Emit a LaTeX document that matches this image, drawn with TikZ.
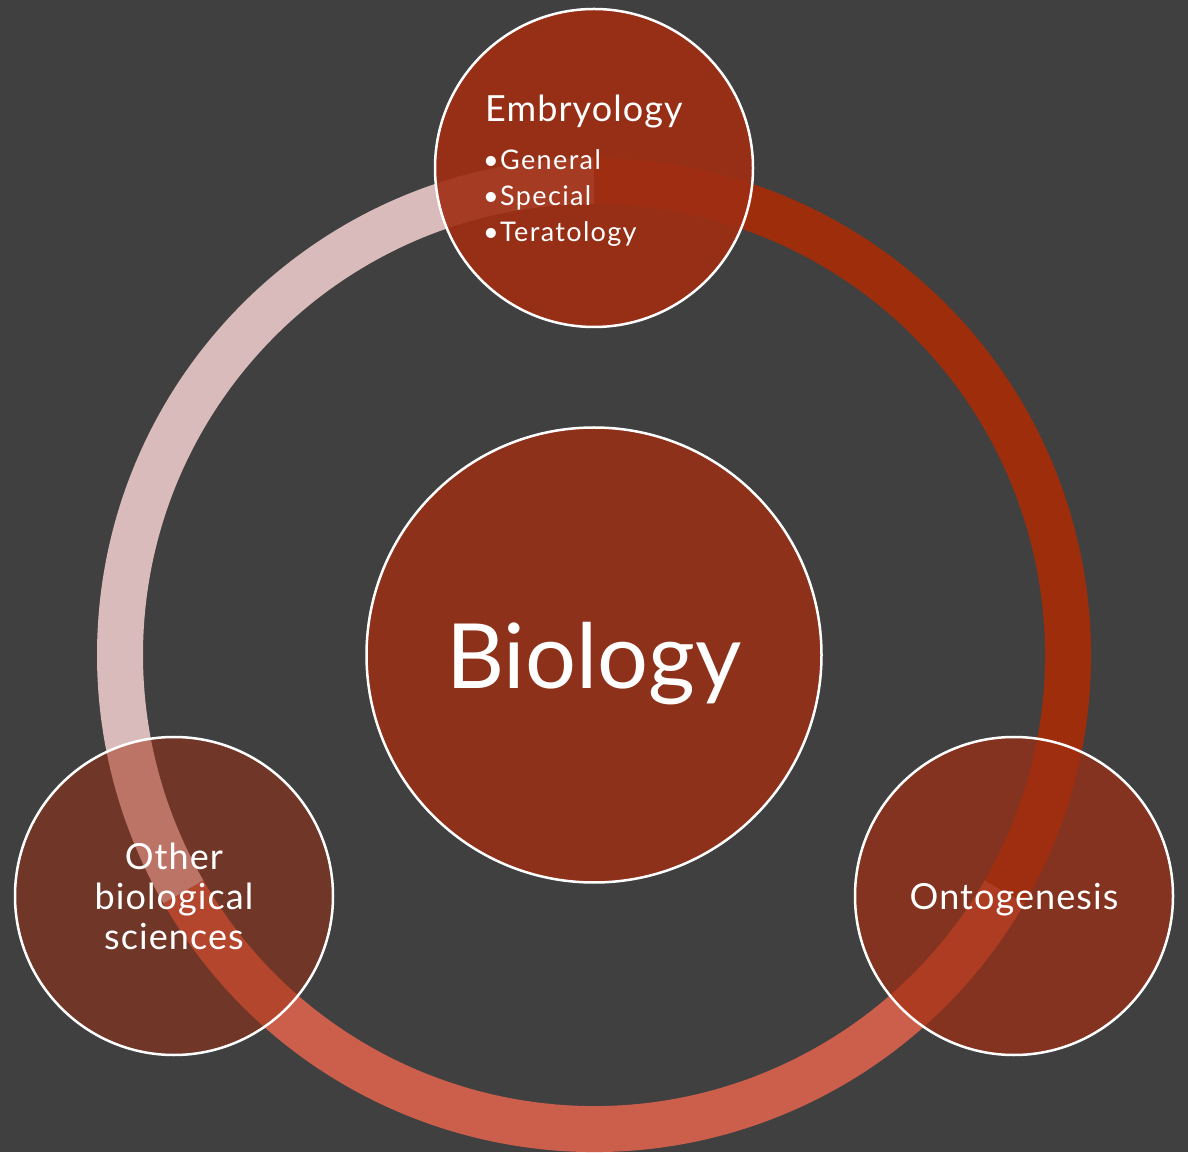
\documentclass[tikz,border=0pt]{standalone}
\usepackage{fontspec}
\setmainfont{Lato}
\newfontfamily\spacedfont[LetterSpace=3]{Lato}
\newfontfamily\listfont[LetterSpace=5]{Lato}
\usepackage{tikz}
\usepackage{xcolor}
\definecolor{slidegrey}{HTML}{404040}
\definecolor{ringdark}{HTML}{9E2D0B}
\definecolor{ringmid}{HTML}{CC5F4C}
\definecolor{ringpink}{HTML}{D9BBBC}
\definecolor{bubblered}{HTML}{A02E12}
\tikzset{
    ring-arc/.style = {line width=46pt},
    bubble/.style = {circle, draw=white, line width=2.5pt, fill=bubblered, text opacity=1, text=white, minimum size=318pt, inner sep=0pt, text depth=0pt},
    bubble-text/.style = {text=white, font=\spacedfont\fontsize{36}{40}\selectfont, align=center},
}

\begin{document}
\begin{tikzpicture}[x=1pt, y=1pt]
\fill[slidegrey] (0,0) rectangle (1188,1152);
\useasboundingbox (0,0) rectangle (1188,1152);
\coordinate (hub) at (594,497);
\draw[ring-arc, ringdark] (hub) ++(-30:474) arc[start angle=-30, end angle=90, radius=474];
\draw[ring-arc, ringpink] (hub) ++(90:474) arc[start angle=90, end angle=210, radius=474];
\draw[ring-arc, ringmid] (hub) ++(210:474) arc[start angle=210, end angle=330, radius=474];
\node[bubble, fill opacity=0.82, minimum size=455pt, font=\fontsize{90}{90}\selectfont] (biology) at (hub) {Biology};
\node[bubble, fill opacity=0.9] (embryology) at (594,984) {};
\node[bubble, fill opacity=0.5, bubble-text] (other) at (174,256) {Other\\biological\\sciences};
\node[bubble, fill opacity=0.7, bubble-text] (ontogenesis) at (1014,256) {Ontogenesis};
\node[bubble-text, anchor=base west, inner sep=0pt] (embryology-title) at (485,1030) {Embryology};
\node[bubble-text, anchor=north west, inner sep=0pt, align=left, font=\listfont\fontsize{27}{36}\selectfont] (embryology-list) at (483,1003) {•General\\•Special\\•Teratology};
\end{tikzpicture}
\end{document}
